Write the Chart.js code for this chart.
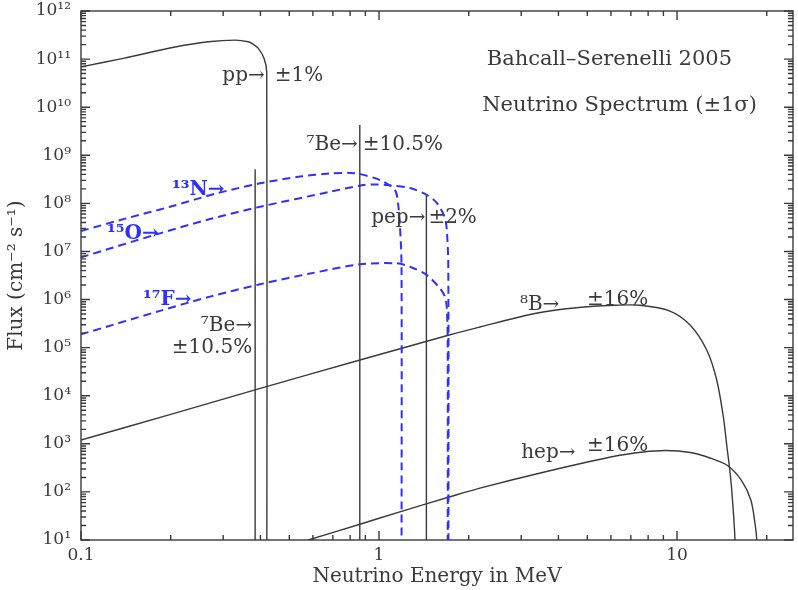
<!DOCTYPE html>
<html>
<head>
<meta charset="utf-8">
<script src="https://cdn.jsdelivr.net/npm/chart.js@4/dist/chart.umd.min.js"></script>
<style>
  body { margin: 0; background: #fff; }
  #wrap { width: 798px; height: 590px; }
</style>
</head>
<body>
<div id="wrap"><canvas id="grafico" width="798" height="590"></canvas></div>
<script>
// Espectro de neutrinos solares (Bahcall-Serenelli 2005)
const ppEnergy = [0.1, 0.14, 0.207, 0.267, 0.329, 0.364, 0.378, 0.393, 0.411, 0.42, 0.4202];
const ppFlux = [6.9e10, 1.05e11, 1.78e11, 2.29e11, 2.48e11, 2.29e11, 2.04e11, 1.69e11, 1.05e11, 5.4e10, 1];

const b8Energy = [0.1, 0.2, 0.389, 0.863, 1.72, 2.18, 3.21, 4.05, 5.11, 6.19, 7.51, 9.47, 11.06, 12.58, 13.59, 14.3, 14.72, 14.98, 15.26, 15.65, 15.7];
const b8Flux = [1.2e3, 4.08e3, 1.36e4, 5.52e4, 1.83e5, 2.68e5, 4.88e5, 6.19e5, 7.15e5, 7.6e5, 7.6e5, 5.77e5, 2.95e5, 8.91e4, 2.12e4, 3.66e3, 818, 345, 110, 10, 1];

const hepEnergy = [0.579, 0.863, 1.19, 1.72, 2.18, 3.65, 6.11, 7.71, 9.18, 11.06, 12.9, 14.77, 16.49, 17.69, 18.27, 18.51, 18.55];
const hepFlux = [10, 21.3, 39.5, 78.3, 120, 266, 545, 675, 726, 659, 507, 354, 170, 68, 22, 10, 1];

const n13Energy = [0.1, 0.142, 0.199, 0.285, 0.399, 0.543, 0.685, 0.8, 0.863, 1.008, 1.131, 1.158, 1.176, 1.19, 1.19];
const n13Flux = [2.66e7, 4.88e7, 8.5e7, 1.61e8, 2.61e8, 3.6e8, 4.2e8, 4.3e8, 4.07e8, 3.05e8, 1.89e8, 1.01e8, 3.26e7, 5e6, 1];

const o15Energy = [0.1, 0.184, 0.271, 0.399, 0.685, 0.884, 0.98, 1.072, 1.27, 1.449, 1.565, 1.665, 1.691, 1.708, 1.71];
const o15Flux = [7.54e6, 2.38e7, 4.72e7, 8.5e7, 1.74e8, 2.4e8, 2.46e8, 2.4e8, 2.08e8, 1.49e8, 1.01e8, 4.94e7, 2.41e7, 5e6, 1];

const f17Energy = [0.1, 0.184, 0.271, 0.399, 0.587, 0.863, 1.147, 1.27, 1.446, 1.602, 1.665, 1.687, 1.7, 1.7];
const f17Flux = [1.89e5, 5.82e5, 1.15e6, 2.08e6, 3.47e6, 5.39e6, 5.66e6, 4.81e6, 3.23e6, 1.71e6, 1.14e6, 7.08e5, 1.5e5, 1];

// linhas monoenergéticas: 7Be (0.384), 7Be (0.862), pep
const lineEnergy = [0.384, 0.862, 1.442];
const lineFlux = [5.1e8, 4.25e9, 1.48e8];

const xMin = 0.1, xMax = 24.5, yMin = 10, yMax = 1e12;

const FONT = "'DejaVu Serif', serif";
const INK = '#3a3a3a';
const BLUE = '#2f2fff';

// textos no gráfico, ancorados em coordenadas de dados
const notes = [
  { text: 'pp→', e: 0.42, f: 4.6e10, align: 'right', dx: -2 },
  { text: '±1%', e: 0.42, f: 4.6e10, align: 'left', dx: 8 },
  { text: '⁷Be→', e: 0.862, f: 1.63e9, align: 'right', dx: -2 },
  { text: '±10.5%', e: 0.862, f: 1.63e9, align: 'left', dx: 3 },
  { text: 'pep→', e: 1.442, f: 4.95e7, align: 'right', dx: -1 },
  { text: '±2%', e: 1.442, f: 4.95e7, align: 'left', dx: 2 },
  { text: '⁷Be→', e: 0.384, f: 2.81e5, align: 'right', dx: -3 },
  { text: '±10.5%', e: 0.384, f: 9.8e4, align: 'right', dx: -3 },
  { text: '⁸B→', e: 2.97, f: 7.7e5, align: 'left', dx: 0 },
  { text: '±16%', e: 4.99, f: 9.8e5, align: 'left', dx: 0 },
  { text: 'hep→', e: 3.0, f: 644, align: 'left', dx: 0 },
  { text: '±16%', e: 4.99, f: 900, align: 'left', dx: 0 },
  { text: 'Bahcall–Serenelli 2005', e: 2.3, f: 1e11, align: 'left', dx: 0, size: 21 },
  { text: 'Neutrino Spectrum (±1σ)', e: 2.22, f: 1.1e10, align: 'left', dx: 0, size: 21 },
  { text: '¹³N→', e: 0.202, f: 1.89e8, align: 'left', dx: 0, color: BLUE, bold: true },
  { text: '¹⁵O→', e: 0.1223, f: 2.3e7, align: 'left', dx: 0, color: BLUE, bold: true },
  { text: '¹⁷F→', e: 0.1614, f: 9.8e5, align: 'left', dx: 0, color: BLUE, bold: true }
];

const pts = (xs, ys) => xs.map((v, i) => ({ x: v, y: ys[i] }));
const solid = (data, t) => ({ data, showLine: true, borderColor: INK, borderWidth: 1.4, pointRadius: 0, tension: t });
const dashed = (data) => ({ data, showLine: true, borderColor: BLUE, borderWidth: 2, borderDash: [8, 5], pointRadius: 0, tension: 0.3 });

const datasets = [
  dashed(pts(n13Energy, n13Flux)),
  dashed(pts(o15Energy, o15Flux)),
  dashed(pts(f17Energy, f17Flux)),
  solid(pts(ppEnergy, ppFlux), 0.3),
  solid(pts(b8Energy, b8Flux), 0.3),
  solid(pts(hepEnergy, hepFlux), 0.3)
];
lineEnergy.forEach((e, i) => datasets.push(solid([{ x: e, y: lineFlux[i] }, { x: e, y: yMin }], 0)));

const isPow10 = v => { const l = Math.log10(v); return Math.abs(l - Math.round(l)) < 1e-6; };
const supDigits = { '0': '⁰', '1': '¹', '2': '²', '3': '³', '4': '⁴', '5': '⁵', '6': '⁶', '7': '⁷', '8': '⁸', '9': '⁹' };

// marcas 1..9 de cada década
function logMarks(min, max) {
  const out = [];
  for (let e = Math.floor(Math.log10(min)); e <= Math.ceil(Math.log10(max)); e++) {
    for (let s = 1; s < 10; s++) {
      const v = s * Math.pow(10, e);
      if (v >= min * 0.999 && v <= max * 1.001) out.push({ v, major: s === 1 });
    }
  }
  return out;
}

// moldura com marcas para dentro
const frameTicks = {
  id: 'frameTicks',
  afterDatasetsDraw(chart) {
    const { ctx, chartArea: a, scales: { x, y } } = chart;
    ctx.save();
    ctx.strokeStyle = INK;
    ctx.lineWidth = 1.4;
    ctx.strokeRect(a.left, a.top, a.right - a.left, a.bottom - a.top);
    ctx.beginPath();
    logMarks(xMin, xMax).forEach(t => {
      const p = x.getPixelForValue(t.v);
      const len = t.major ? 9 : 5;
      ctx.moveTo(p, a.bottom); ctx.lineTo(p, a.bottom - len);
      ctx.moveTo(p, a.top); ctx.lineTo(p, a.top + len);
    });
    logMarks(yMin, yMax).forEach(t => {
      const p = y.getPixelForValue(t.v);
      const len = t.major ? 9 : 5;
      ctx.moveTo(a.left, p); ctx.lineTo(a.left + len, p);
      ctx.moveTo(a.right, p); ctx.lineTo(a.right - len, p);
    });
    ctx.stroke();
    ctx.restore();
  }
};

const labels = {
  id: 'labels',
  afterDraw(chart) {
    const { ctx, scales: { x, y } } = chart;
    ctx.save();
    ctx.textBaseline = 'middle';
    notes.forEach(n => {
      ctx.font = (n.bold ? 'bold ' : '') + (n.size || 20) + 'px ' + FONT;
      ctx.fillStyle = n.color || INK;
      ctx.textAlign = n.align;
      ctx.fillText(n.text, x.getPixelForValue(n.e) + n.dx, y.getPixelForValue(n.f));
    });
    ctx.restore();
  }
};

const ctx = document.getElementById('grafico');
new Chart(ctx, {
  type: 'scatter',
  data: { datasets },
  options: {
    responsive: false,
    animation: false,
    layout: { padding: { top: 11, right: 5, left: 0, bottom: 0 } },
    plugins: { legend: { display: false }, tooltip: { enabled: false } },
    scales: {
      x: {
        type: 'logarithmic',
        min: xMin,
        max: xMax,
        grid: { display: false, drawTicks: false },
        border: { display: false },
        ticks: {
          autoSkip: false,
          maxRotation: 0,
          padding: 5,
          color: INK,
          font: { family: FONT, size: 17 },
          callback: v => isPow10(v) ? (v < 1 ? '0.1' : String(Math.round(v))) : ''
        },
        title: {
          display: true,
          text: 'Neutrino Energy in MeV',
          color: INK,
          font: { family: FONT, size: 20 },
          padding: { top: 0, bottom: 1 }
        },
        afterFit: s => { s.height = 50; s.paddingLeft = 0; s.paddingRight = 0; }
      },
      y: {
        type: 'logarithmic',
        min: yMin,
        max: yMax,
        grid: { display: false, drawTicks: false },
        border: { display: false },
        ticks: {
          autoSkip: false,
          padding: 10,
          color: INK,
          font: { family: FONT, size: 17 },
          callback: v => isPow10(v) ? '10' + String(Math.round(Math.log10(v))).split('').map(c => supDigits[c]).join('') : ''
        },
        title: {
          display: true,
          text: 'Flux (cm⁻² s⁻¹)',
          color: INK,
          font: { family: FONT, size: 20 },
          padding: { top: 5, bottom: 0 }
        },
        afterFit: s => { s.width = 81; s.paddingTop = 0; s.paddingBottom = 0; }
      }
    }
  },
  plugins: [frameTicks, labels]
});
</script>
</body>
</html>
